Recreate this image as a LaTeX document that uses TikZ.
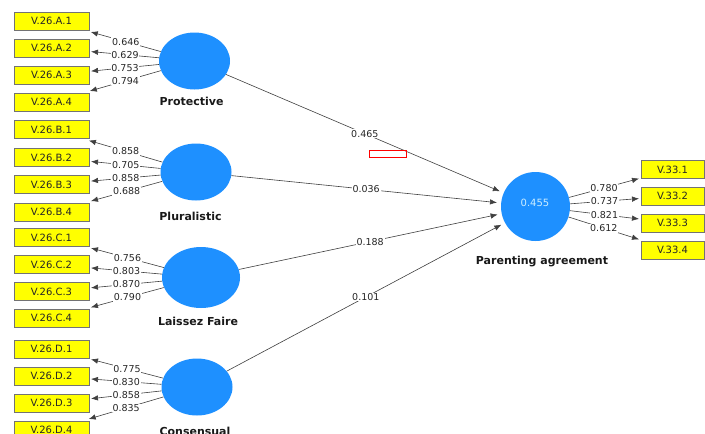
\documentclass[tikz,border=0pt]{standalone}
\usepackage{fontspec}
\setmainfont{DejaVu Sans}
\usetikzlibrary{arrows.meta,calc,shapes.geometric}
\definecolor{latblue}{RGB}{30,144,255}
\definecolor{indyel}{RGB}{255,255,0}
\definecolor{valtxt}{RGB}{205,238,255}
\begin{document}
\begin{tikzpicture}[x=1pt,y=-1pt,
 lat/.style={ellipse, fill=latblue, inner sep=0pt, minimum width=71pt, minimum height=57pt},
 ind/.style={rectangle, fill=indyel, draw=black!55, line width=0.4pt, minimum width=75pt, minimum height=18pt, inner sep=0pt, outer sep=2pt, font=\fontsize{10}{12}\selectfont, text=black!85},
 indr/.style={ind, minimum width=63pt},
 ld/.style={draw=black!75, line width=0.6pt, -{Latex[length=7pt,width=5.5pt]}},
 num/.style={fill=white, inner sep=0.8pt, font=\fontsize{9.5}{10}\selectfont, text=black!85},
 lname/.style={font=\bfseries\fontsize{11}{13}\selectfont, text=black!90}]
\useasboundingbox[fill=white] (0,0) rectangle (705,434);

% latent variables
\node[lat] (P)  at (194.5,61) {};
\node[lat] (PL) at (196,172) {};
\node[lat, minimum width=78pt, minimum height=61pt] (LF) at (201,277.5) {};
\node[lat] (CO) at (197,387) {};
\node[lat, minimum width=69pt, minimum height=69pt] (PA) at (535.5,206.5) {};
\node[text=valtxt, font=\fontsize{10}{12}\selectfont] (PAv) at (535,203) {0.455};

% names
\node[lname] (nP)  at (191.5,101) {Protective};
\node[lname] (nPL) at (190.5,216) {Pluralistic};
\node[lname] (nLF) at (198,321) {Laissez Faire};
\node[lname] (nCO) at (195,431) {Consensual};
\node[lname] (nPA) at (542,262) {Parenting agreement};

% indicators left
\node[ind] (a1) at (51.5,21) {V.26.A.1};
\node[ind] (a2) at (51.5,48) {V.26.A.2};
\node[ind] (a3) at (51.5,75) {V.26.A.3};
\node[ind] (a4) at (51.5,102) {V.26.A.4};
\node[ind] (b1) at (51.5,129.5) {V.26.B.1};
\node[ind] (b2) at (51.5,157.5) {V.26.B.2};
\node[ind] (b3) at (51.5,184.5) {V.26.B.3};
\node[ind] (b4) at (51.5,212) {V.26.B.4};
\node[ind] (c1) at (51.5,237.5) {V.26.C.1};
\node[ind] (c2) at (51.5,264.5) {V.26.C.2};
\node[ind] (c3) at (51.5,291.5) {V.26.C.3};
\node[ind] (c4) at (51.5,318) {V.26.C.4};
\node[ind] (d1) at (51.5,349) {V.26.D.1};
\node[ind] (d2) at (51.5,376) {V.26.D.2};
\node[ind] (d3) at (51.5,403) {V.26.D.3};
\node[ind] (d4) at (51.5,430) {V.26.D.4};

% indicators right
\node[indr] (r1) at (672.5,169.5) {V.33.1};
\node[indr] (r2) at (672.5,196) {V.33.2};
\node[indr] (r3) at (672.5,223) {V.33.3};
\node[indr] (r4) at (672.5,250) {V.33.4};

% loadings
\draw[ld] (P) -- node[num]{0.646} (a1);
\draw[ld] (P) -- node[num]{0.629} (a2);
\draw[ld] (P) -- node[num]{0.753} (a3);
\draw[ld] (P) -- node[num]{0.794} (a4);
\draw[ld] (PL) -- node[num]{0.858} (b1);
\draw[ld] (PL) -- node[num]{0.705} (b2);
\draw[ld] (PL) -- node[num]{0.858} (b3);
\draw[ld] (PL) -- node[num]{0.688} (b4);
\draw[ld] (LF) -- node[num]{0.756} (c1);
\draw[ld] (LF) -- node[num]{0.803} (c2);
\draw[ld] (LF) -- node[num]{0.870} (c3);
\draw[ld] (LF) -- node[num]{0.790} (c4);
\draw[ld] (CO) -- node[num]{0.775} (d1);
\draw[ld] (CO) -- node[num]{0.830} (d2);
\draw[ld] (CO) -- node[num]{0.858} (d3);
\draw[ld] (CO) -- node[num]{0.835} (d4);
\draw[ld] (PA) -- node[num]{0.780} (r1);
\draw[ld] (PA) -- node[num]{0.737} (r2);
\draw[ld] (PA) -- node[num]{0.821} (r3);
\draw[ld] (PA) -- node[num]{0.612} (r4);

% structural paths
\draw[ld, shorten >=4pt] (P)  -- node[num]{0.465} (PA);
\draw[ld, shorten >=4pt] (PL) -- node[num]{0.036} (PA);
\draw[ld, shorten >=4pt] (LF) -- node[num]{0.188} (PA);
\draw[ld, shorten >=4pt] (CO) -- node[num]{0.101} (PA);

% red marker
\node[draw=red, line width=0.5pt, minimum width=37pt, minimum height=7pt, inner sep=0pt] (redbox) at (387.5,153.5) {};
\end{tikzpicture}
\end{document}
